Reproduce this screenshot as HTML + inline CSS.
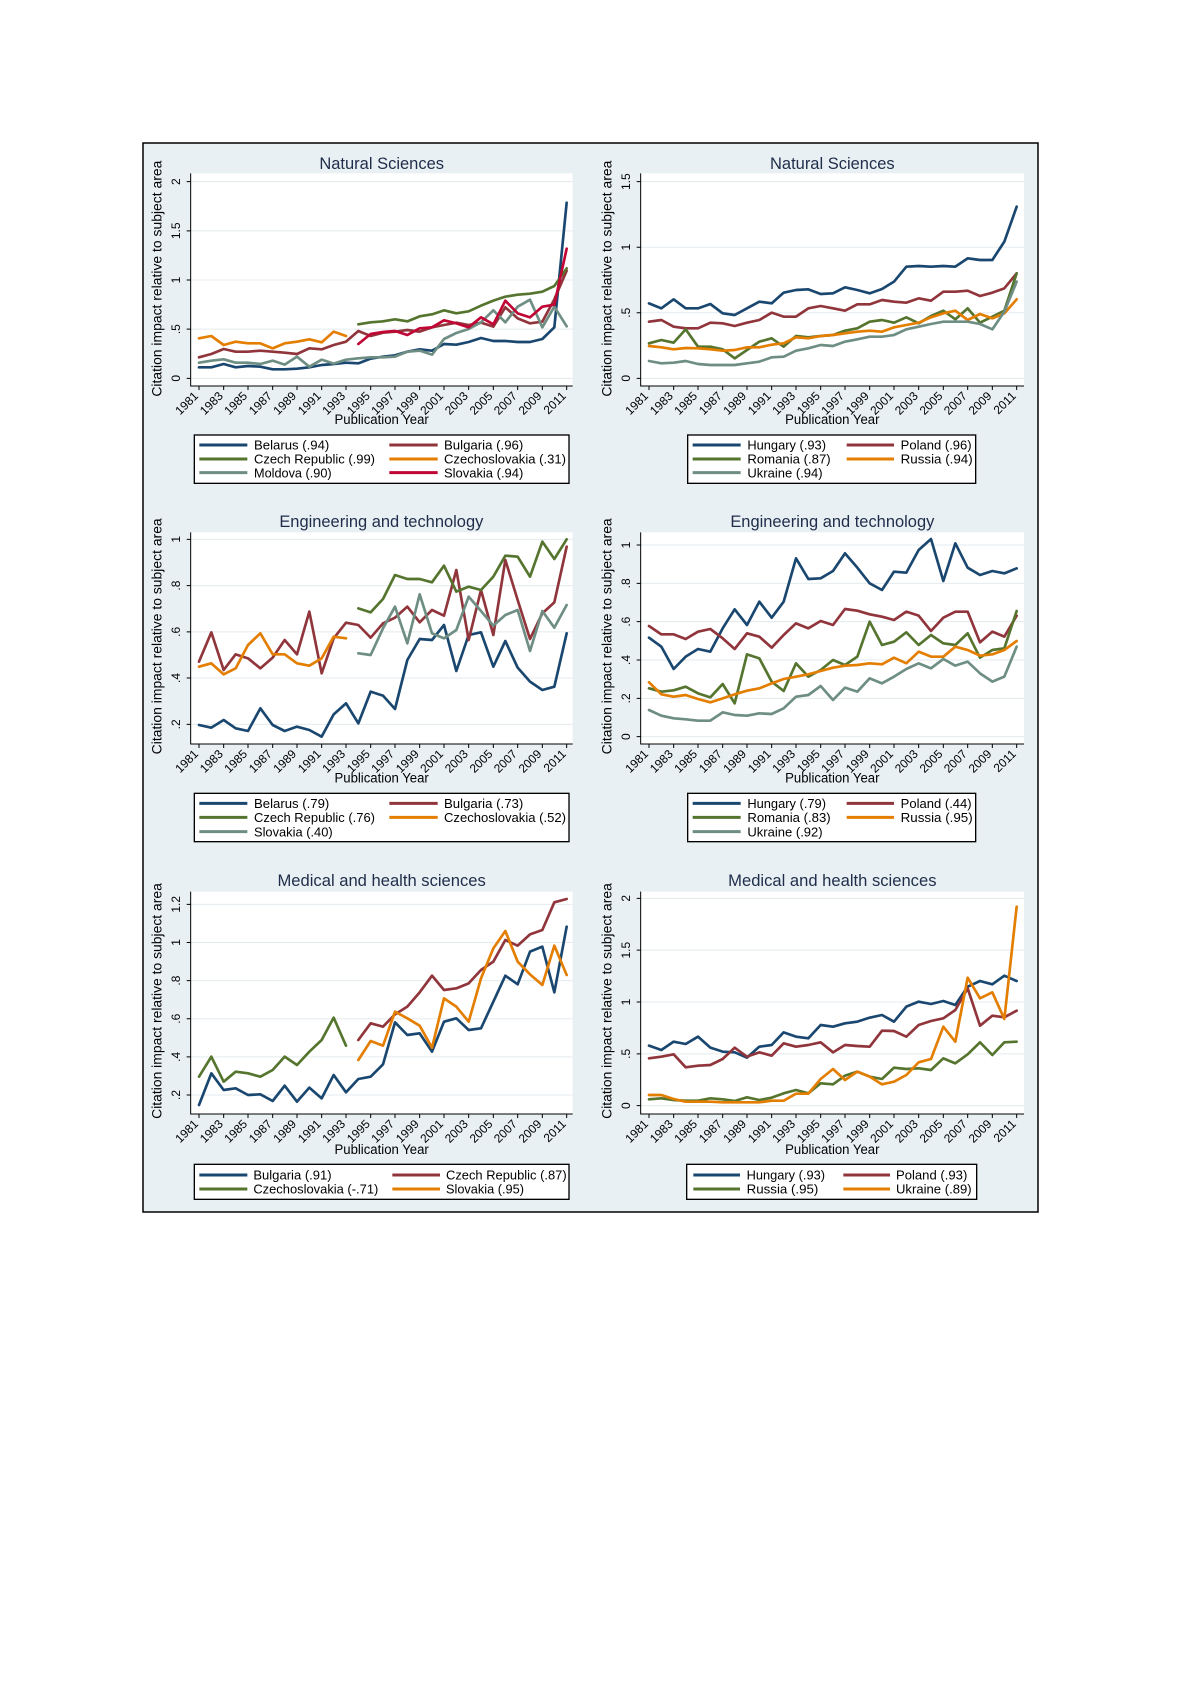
<!DOCTYPE html>
<html><head><meta charset="utf-8"><style>
html,body{margin:0;padding:0;background:#fff;}
svg{display:block;}
.t{font-family:"Liberation Sans",Arial,sans-serif;fill:#000;}
.tk{font-size:36px;}
.ti{font-size:49px;fill:#1f2d4a;}
.ax{font-size:41px;}
.lg{font-size:39px;}
.ln{fill:none;stroke-width:8;stroke-linejoin:round;stroke-linecap:round;}
.c1{stroke:#1a476f}.c2{stroke:#90353b}.c3{stroke:#55752f}.c4{stroke:#e37e00}.c5{stroke:#6e8e84}.c6{stroke:#c10534}
.gr{stroke:#e4ebef;stroke-width:3;fill:none}
.ak{stroke:#000;stroke-width:3;fill:none}
.lb{fill:#fff;stroke:#000;stroke-width:4}
.ls{stroke-width:9;fill:none}
</style></head><body>
<svg width="1191" height="1685" viewBox="0 0 1191 1685" xmlns="http://www.w3.org/2000/svg">
<rect x="0" y="0" width="1191" height="1685" fill="#fff"/>
<rect x="143" y="143" width="895" height="1069" fill="#e8f0f3" stroke="#000" stroke-width="1.5"/>

<!-- ============ PANEL 1 (top-left) ============ -->
<g transform="translate(140,140) scale(0.333333)">
<rect x="152" y="100" width="1146" height="638" fill="#fff"/>
<path class="gr" d="M152,715H1298M152,567.5H1298M152,420H1298M152,272.5H1298M152,125H1298"/>
<polyline class="ln c1" points="177,682 214,682 251,672 287,682 324,678 361,680 398,688 434,688 471,686 508,682 545,675 581,672 618,668 655,670 692,656 729,650 765,646 802,635 839,628 876,632 912,612 949,614 986,606 1023,594 1060,603 1096,603 1133,606 1170,606 1207,597 1243,562 1280,188"/>
<polyline class="ln c2" points="177,652 214,642 251,627 287,635 324,635 361,632 398,635 434,638 471,642 508,625 545,628 581,615 618,605 655,573 692,588 729,578 765,575 802,570 839,575 876,562 912,555 949,548 986,555 1023,548 1060,560 1096,502 1133,535 1170,550 1207,545 1243,478 1280,392"/>
<polyline class="ln c3" points="655,553 692,547 729,544 765,538 802,544 839,529 876,523 912,511 949,520 986,514 1023,497 1060,482 1096,470 1133,464 1170,461 1207,455 1243,438 1280,385"/>
<polyline class="ln c4" points="177,595 214,588 251,615 287,605 324,610 361,610 398,625 434,610 471,605 508,598 545,607 581,575 618,588"/>
<polyline class="ln c5" points="177,668 214,662 251,658 287,668 324,668 361,672 398,662 434,674 471,650 508,680 545,659 581,671 618,659 655,655 692,652 729,652 765,650 802,635 839,632 876,644 912,597 949,579 986,567 1023,547 1060,511 1096,547 1133,500 1170,479 1207,562 1243,500 1280,559"/>
<polyline class="ln c6" points="655,612 692,582 729,576 765,573 802,585 839,565 876,562 912,541 949,550 986,562 1023,532 1060,553 1096,482 1133,520 1170,532 1207,500 1243,494 1280,326"/>
<path class="ak" d="M152,100V738H1298"/>
<path class="ak" d="M140,715H152M140,567.5H152M140,420H152M140,272.5H152M140,125H152"/>
<path class="ak" d="M177,738v12M251,738v12M324,738v12M398,738v12M471,738v12M545,738v12M618,738v12M692,738v12M765,738v12M839,738v12M912,738v12M986,738v12M1060,738v12M1133,738v12M1207,738v12M1280,738v12"/>
<g class="t tk" text-anchor="middle">
<text transform="translate(120,715) rotate(-90)">0</text>
<text transform="translate(120,567.5) rotate(-90)">.5</text>
<text transform="translate(120,420) rotate(-90)">1</text>
<text transform="translate(120,272.5) rotate(-90)">1.5</text>
<text transform="translate(120,125) rotate(-90)">2</text>
</g>
<g class="t tk" text-anchor="end" transform="translate(0,770)">
<text transform="translate(177,0) rotate(-45)">1981</text><text transform="translate(251,0) rotate(-45)">1983</text><text transform="translate(324,0) rotate(-45)">1985</text><text transform="translate(398,0) rotate(-45)">1987</text><text transform="translate(471,0) rotate(-45)">1989</text><text transform="translate(545,0) rotate(-45)">1991</text><text transform="translate(618,0) rotate(-45)">1993</text><text transform="translate(692,0) rotate(-45)">1995</text><text transform="translate(765,0) rotate(-45)">1997</text><text transform="translate(839,0) rotate(-45)">1999</text><text transform="translate(912,0) rotate(-45)">2001</text><text transform="translate(986,0) rotate(-45)">2003</text><text transform="translate(1060,0) rotate(-45)">2005</text><text transform="translate(1133,0) rotate(-45)">2007</text><text transform="translate(1207,0) rotate(-45)">2009</text><text transform="translate(1280,0) rotate(-45)">2011</text>
</g>
<text class="t ti" x="725" y="87" text-anchor="middle" textLength="374" lengthAdjust="spacingAndGlyphs">Natural Sciences</text>
<text class="t ax" x="725" y="852" text-anchor="middle" textLength="283" lengthAdjust="spacingAndGlyphs">Publication Year</text>
<text class="t ax" transform="translate(65,416) rotate(-90)" text-anchor="middle" textLength="708" lengthAdjust="spacingAndGlyphs">Citation impact relative to subject area</text>
<rect class="lb" x="163" y="885" width="1124" height="145"/>
<path class="ls c1" d="M178,915H322"/><path class="ls c2" d="M748,915H893"/>
<path class="ls c3" d="M178,957H322"/><path class="ls c4" d="M748,957H893"/>
<path class="ls c5" d="M178,998H322"/><path class="ls c6" d="M748,998H893"/>
<g class="t lg">
<text x="342" y="929" textLength="226" lengthAdjust="spacingAndGlyphs">Belarus (.94)</text>
<text x="912" y="929" textLength="238" lengthAdjust="spacingAndGlyphs">Bulgaria (.96)</text>
<text x="342" y="971" textLength="363" lengthAdjust="spacingAndGlyphs">Czech Republic (.99)</text>
<text x="912" y="971" textLength="366" lengthAdjust="spacingAndGlyphs">Czechoslovakia (.31)</text>
<text x="342" y="1012" textLength="233" lengthAdjust="spacingAndGlyphs">Moldova (.90)</text>
<text x="912" y="1012" textLength="238" lengthAdjust="spacingAndGlyphs">Slovakia (.94)</text>
</g>
</g>

<!-- ============ PANEL 2 (top-right) ============ -->
<g transform="translate(590,140) scale(0.333333)">
<rect x="152" y="100" width="1150" height="638" fill="#fff"/>
<path class="gr" d="M152,715H1302M152,518.3H1302M152,321.7H1302M152,125H1302"/>
<polyline class="ln c1" points="177,490 214,505 251,478 287,505 324,505 361,492 398,520 434,525 471,505 508,485 545,490 581,458 618,450 655,448 692,462 729,460 765,442 802,450 839,460 876,447 912,425 949,380 986,378 1023,380 1060,378 1096,380 1133,355 1170,360 1207,360 1243,305 1280,200"/>
<polyline class="ln c2" points="177,545 214,540 251,560 287,565 324,565 361,548 398,550 434,558 471,548 508,540 545,518 581,530 618,530 655,505 692,498 729,505 765,512 802,493 839,493 876,480 912,485 949,488 986,475 1023,482 1060,455 1096,455 1133,452 1170,468 1207,458 1243,445 1280,400"/>
<polyline class="ln c3" points="177,610 214,600 251,608 287,568 324,620 361,620 398,628 434,655 471,630 508,605 545,595 581,620 618,588 655,592 692,588 729,585 765,572 802,565 839,545 876,540 912,548 949,532 986,550 1023,528 1060,512 1096,538 1133,505 1170,548 1207,530 1243,512 1280,400"/>
<polyline class="ln c4" points="177,618 214,622 251,628 287,624 324,625 361,628 398,632 434,630 471,622 508,622 545,614 581,610 618,592 655,595 692,588 729,585 765,580 802,575 839,572 876,575 912,562 949,555 986,548 1023,532 1060,520 1096,512 1133,540 1170,522 1207,535 1243,520 1280,478"/>
<polyline class="ln c5" points="177,663 214,670 251,668 287,663 324,672 361,675 398,675 434,675 471,670 508,665 545,652 581,650 618,632 655,625 692,615 729,618 765,605 802,598 839,590 876,590 912,585 949,568 986,560 1023,552 1060,545 1096,545 1133,545 1170,552 1207,568 1243,515 1280,425"/>
<path class="ak" d="M152,100V738H1302"/>
<path class="ak" d="M140,715H152M140,518.3H152M140,321.7H152M140,125H152"/>
<path class="ak" d="M177,738v12M251,738v12M324,738v12M398,738v12M471,738v12M545,738v12M618,738v12M692,738v12M765,738v12M839,738v12M912,738v12M986,738v12M1060,738v12M1133,738v12M1207,738v12M1280,738v12"/>
<g class="t tk" text-anchor="middle">
<text transform="translate(120,715) rotate(-90)">0</text>
<text transform="translate(120,518.3) rotate(-90)">.5</text>
<text transform="translate(120,321.7) rotate(-90)">1</text>
<text transform="translate(120,125) rotate(-90)">1.5</text>
</g>
<g class="t tk" text-anchor="end" transform="translate(0,770)">
<text transform="translate(177,0) rotate(-45)">1981</text><text transform="translate(251,0) rotate(-45)">1983</text><text transform="translate(324,0) rotate(-45)">1985</text><text transform="translate(398,0) rotate(-45)">1987</text><text transform="translate(471,0) rotate(-45)">1989</text><text transform="translate(545,0) rotate(-45)">1991</text><text transform="translate(618,0) rotate(-45)">1993</text><text transform="translate(692,0) rotate(-45)">1995</text><text transform="translate(765,0) rotate(-45)">1997</text><text transform="translate(839,0) rotate(-45)">1999</text><text transform="translate(912,0) rotate(-45)">2001</text><text transform="translate(986,0) rotate(-45)">2003</text><text transform="translate(1060,0) rotate(-45)">2005</text><text transform="translate(1133,0) rotate(-45)">2007</text><text transform="translate(1207,0) rotate(-45)">2009</text><text transform="translate(1280,0) rotate(-45)">2011</text>
</g>
<text class="t ti" x="727" y="87" text-anchor="middle" textLength="374" lengthAdjust="spacingAndGlyphs">Natural Sciences</text>
<text class="t ax" x="727" y="852" text-anchor="middle" textLength="283" lengthAdjust="spacingAndGlyphs">Publication Year</text>
<text class="t ax" transform="translate(65,416) rotate(-90)" text-anchor="middle" textLength="708" lengthAdjust="spacingAndGlyphs">Citation impact relative to subject area</text>
<rect class="lb" x="293" y="885" width="864" height="145"/>
<path class="ls c1" d="M308,915H452"/><path class="ls c2" d="M770,915H912"/>
<path class="ls c3" d="M308,957H452"/><path class="ls c4" d="M770,957H912"/>
<path class="ls c5" d="M308,998H452"/>
<g class="t lg">
<text x="472" y="929" textLength="236" lengthAdjust="spacingAndGlyphs">Hungary (.93)</text>
<text x="932" y="929" textLength="213" lengthAdjust="spacingAndGlyphs">Poland (.96)</text>
<text x="472" y="971" textLength="250" lengthAdjust="spacingAndGlyphs">Romania (.87)</text>
<text x="932" y="971" textLength="216" lengthAdjust="spacingAndGlyphs">Russia (.94)</text>
<text x="472" y="1012" textLength="226" lengthAdjust="spacingAndGlyphs">Ukraine (.94)</text>
</g>
</g>

<!-- ============ PANEL 3 (middle-left) ============ -->
<g transform="translate(140,495) scale(0.333333)">
<rect x="152" y="112" width="1146" height="635" fill="#fff"/>
<path class="gr" d="M152,688H1298M152,549H1298M152,410.5H1298M152,271.75H1298M152,133H1298"/>
<polyline class="ln c1" points="177,690 214,698 251,675 287,700 324,708 361,640 398,690 434,708 471,695 508,705 545,725 581,658 618,625 655,685 692,590 729,602 765,642 802,495 839,432 876,435 912,390 949,528 986,420 1023,412 1060,515 1096,438 1133,518 1170,560 1207,585 1243,575 1280,415"/>
<polyline class="ln c2" points="177,500 214,412 251,525 287,478 324,490 361,520 398,488 434,435 471,478 508,350 545,535 581,430 618,383 655,390 692,428 729,385 765,368 802,335 839,382 876,345 912,362 949,225 986,435 1023,285 1060,420 1096,195 1133,315 1170,432 1207,355 1243,322 1280,155"/>
<polyline class="ln c3" points="655,340 692,352 729,312 765,240 802,252 839,252 876,262 912,212 949,290 986,275 1023,285 1060,245 1096,182 1133,185 1170,245 1207,140 1243,192 1280,133"/>
<polyline class="ln c4" points="177,515 214,505 251,538 287,520 324,450 361,415 398,478 434,478 471,505 508,512 545,490 581,425 618,430"/>
<polyline class="ln c5" points="655,475 692,480 729,400 765,335 802,445 839,298 876,415 912,430 949,405 986,305 1023,348 1060,392 1096,360 1133,345 1170,468 1207,348 1243,398 1280,330"/>
<path class="ak" d="M152,112V747H1298"/>
<path class="ak" d="M140,688H152M140,549H152M140,410.5H152M140,271.75H152M140,133H152"/>
<path class="ak" d="M177,747v12M251,747v12M324,747v12M398,747v12M471,747v12M545,747v12M618,747v12M692,747v12M765,747v12M839,747v12M912,747v12M986,747v12M1060,747v12M1133,747v12M1207,747v12M1280,747v12"/>
<g class="t tk" text-anchor="middle">
<text transform="translate(120,688) rotate(-90)">.2</text>
<text transform="translate(120,549) rotate(-90)">.4</text>
<text transform="translate(120,410.5) rotate(-90)">.6</text>
<text transform="translate(120,271.75) rotate(-90)">.8</text>
<text transform="translate(120,133) rotate(-90)">1</text>
</g>
<g class="t tk" text-anchor="end" transform="translate(0,779)">
<text transform="translate(177,0) rotate(-45)">1981</text><text transform="translate(251,0) rotate(-45)">1983</text><text transform="translate(324,0) rotate(-45)">1985</text><text transform="translate(398,0) rotate(-45)">1987</text><text transform="translate(471,0) rotate(-45)">1989</text><text transform="translate(545,0) rotate(-45)">1991</text><text transform="translate(618,0) rotate(-45)">1993</text><text transform="translate(692,0) rotate(-45)">1995</text><text transform="translate(765,0) rotate(-45)">1997</text><text transform="translate(839,0) rotate(-45)">1999</text><text transform="translate(912,0) rotate(-45)">2001</text><text transform="translate(986,0) rotate(-45)">2003</text><text transform="translate(1060,0) rotate(-45)">2005</text><text transform="translate(1133,0) rotate(-45)">2007</text><text transform="translate(1207,0) rotate(-45)">2009</text><text transform="translate(1280,0) rotate(-45)">2011</text>
</g>
<text class="t ti" x="724" y="96" text-anchor="middle" textLength="612" lengthAdjust="spacingAndGlyphs">Engineering and technology</text>
<text class="t ax" x="725" y="862" text-anchor="middle" textLength="283" lengthAdjust="spacingAndGlyphs">Publication Year</text>
<text class="t ax" transform="translate(65,424) rotate(-90)" text-anchor="middle" textLength="708" lengthAdjust="spacingAndGlyphs">Citation impact relative to subject area</text>
<rect class="lb" x="163" y="895" width="1124" height="145"/>
<path class="ls c1" d="M178,925H322"/><path class="ls c2" d="M748,925H893"/>
<path class="ls c3" d="M178,967H322"/><path class="ls c4" d="M748,967H893"/>
<path class="ls c5" d="M178,1010H322"/>
<g class="t lg">
<text x="342" y="939" textLength="226" lengthAdjust="spacingAndGlyphs">Belarus (.79)</text>
<text x="912" y="939" textLength="238" lengthAdjust="spacingAndGlyphs">Bulgaria (.73)</text>
<text x="342" y="981" textLength="363" lengthAdjust="spacingAndGlyphs">Czech Republic (.76)</text>
<text x="912" y="981" textLength="366" lengthAdjust="spacingAndGlyphs">Czechoslovakia (.52)</text>
<text x="342" y="1024" textLength="236" lengthAdjust="spacingAndGlyphs">Slovakia (.40)</text>
</g>
</g>

<!-- ============ PANEL 4 (middle-right) ============ -->
<g transform="translate(590,495) scale(0.333333)">
<rect x="152" y="112" width="1150" height="635" fill="#fff"/>
<path class="gr" d="M152,725H1302M152,610H1302M152,495H1302M152,380H1302M152,265H1302M152,150H1302"/>
<polyline class="ln c1" points="177,428 214,455 251,522 287,485 324,462 361,470 398,400 434,343 471,390 508,320 545,368 581,320 618,190 655,252 692,250 729,228 765,175 802,218 839,265 876,285 912,230 949,233 986,165 1023,132 1060,258 1096,145 1133,218 1170,240 1207,228 1243,235 1280,220"/>
<polyline class="ln c2" points="177,393 214,418 251,418 287,432 324,410 361,402 398,430 434,462 471,415 508,425 545,458 581,420 618,385 655,400 692,378 729,390 765,342 802,347 839,358 876,365 912,375 949,350 986,362 1023,408 1060,368 1096,350 1133,350 1170,442 1207,410 1243,425 1280,362"/>
<polyline class="ln c3" points="177,580 214,590 251,586 287,575 324,595 361,607 398,567 434,625 471,478 508,490 545,560 581,588 618,505 655,545 692,525 729,495 765,510 802,485 839,380 876,450 912,440 949,412 986,450 1023,420 1060,445 1096,450 1133,415 1170,488 1207,465 1243,460 1280,348"/>
<polyline class="ln c4" points="177,562 214,598 251,605 287,600 324,612 361,622 398,610 434,598 471,587 508,580 545,565 581,552 618,545 655,538 692,528 729,518 765,512 802,510 839,505 876,508 912,488 949,505 986,470 1023,485 1060,485 1096,455 1133,465 1170,482 1207,478 1243,465 1280,438"/>
<polyline class="ln c5" points="177,645 214,662 251,670 287,673 324,677 361,677 398,652 434,660 471,662 508,655 545,657 581,640 618,605 655,600 692,573 729,615 765,578 802,590 839,550 876,565 912,545 949,522 986,505 1023,520 1060,492 1096,512 1133,500 1170,535 1207,560 1243,545 1280,455"/>
<path class="ak" d="M152,112V747H1302"/>
<path class="ak" d="M140,725H152M140,610H152M140,495H152M140,380H152M140,265H152M140,150H152"/>
<path class="ak" d="M177,747v12M251,747v12M324,747v12M398,747v12M471,747v12M545,747v12M618,747v12M692,747v12M765,747v12M839,747v12M912,747v12M986,747v12M1060,747v12M1133,747v12M1207,747v12M1280,747v12"/>
<g class="t tk" text-anchor="middle">
<text transform="translate(120,725) rotate(-90)">0</text>
<text transform="translate(120,610) rotate(-90)">.2</text>
<text transform="translate(120,495) rotate(-90)">.4</text>
<text transform="translate(120,380) rotate(-90)">.6</text>
<text transform="translate(120,265) rotate(-90)">.8</text>
<text transform="translate(120,150) rotate(-90)">1</text>
</g>
<g class="t tk" text-anchor="end" transform="translate(0,779)">
<text transform="translate(177,0) rotate(-45)">1981</text><text transform="translate(251,0) rotate(-45)">1983</text><text transform="translate(324,0) rotate(-45)">1985</text><text transform="translate(398,0) rotate(-45)">1987</text><text transform="translate(471,0) rotate(-45)">1989</text><text transform="translate(545,0) rotate(-45)">1991</text><text transform="translate(618,0) rotate(-45)">1993</text><text transform="translate(692,0) rotate(-45)">1995</text><text transform="translate(765,0) rotate(-45)">1997</text><text transform="translate(839,0) rotate(-45)">1999</text><text transform="translate(912,0) rotate(-45)">2001</text><text transform="translate(986,0) rotate(-45)">2003</text><text transform="translate(1060,0) rotate(-45)">2005</text><text transform="translate(1133,0) rotate(-45)">2007</text><text transform="translate(1207,0) rotate(-45)">2009</text><text transform="translate(1280,0) rotate(-45)">2011</text>
</g>
<text class="t ti" x="727" y="96" text-anchor="middle" textLength="612" lengthAdjust="spacingAndGlyphs">Engineering and technology</text>
<text class="t ax" x="727" y="862" text-anchor="middle" textLength="283" lengthAdjust="spacingAndGlyphs">Publication Year</text>
<text class="t ax" transform="translate(65,424) rotate(-90)" text-anchor="middle" textLength="708" lengthAdjust="spacingAndGlyphs">Citation impact relative to subject area</text>
<rect class="lb" x="293" y="895" width="864" height="145"/>
<path class="ls c1" d="M308,925H452"/><path class="ls c2" d="M770,925H912"/>
<path class="ls c3" d="M308,967H452"/><path class="ls c4" d="M770,967H912"/>
<path class="ls c5" d="M308,1010H452"/>
<g class="t lg">
<text x="472" y="939" textLength="236" lengthAdjust="spacingAndGlyphs">Hungary (.79)</text>
<text x="932" y="939" textLength="213" lengthAdjust="spacingAndGlyphs">Poland (.44)</text>
<text x="472" y="981" textLength="250" lengthAdjust="spacingAndGlyphs">Romania (.83)</text>
<text x="932" y="981" textLength="216" lengthAdjust="spacingAndGlyphs">Russia (.95)</text>
<text x="472" y="1024" textLength="226" lengthAdjust="spacingAndGlyphs">Ukraine (.92)</text>
</g>
</g>

<!-- ============ PANEL 5 (bottom-left) ============ -->
<g transform="translate(140,855) scale(0.333333)">
<rect x="152" y="110" width="1146" height="667" fill="#fff"/>
<path class="gr" d="M152,720H1298M152,605.6H1298M152,491.2H1298M152,376.8H1298M152,262.4H1298M152,148H1298"/>
<polyline class="ln c1" points="177,750 214,655 251,705 287,700 324,720 361,718 398,738 434,692 471,740 508,698 545,730 581,660 618,712 655,672 692,665 729,628 765,502 802,540 839,535 876,590 912,500 949,490 986,525 1023,520 1060,440 1096,362 1133,388 1170,290 1207,275 1243,412 1280,215"/>
<polyline class="ln c2" points="655,555 692,505 729,515 765,478 802,455 839,412 876,362 912,405 949,400 986,385 1023,345 1060,320 1096,255 1133,272 1170,238 1207,225 1243,142 1280,132"/>
<polyline class="ln c3" points="177,665 214,605 251,680 287,650 324,655 361,665 398,645 434,605 471,630 508,590 545,555 581,488 618,572"/>
<polyline class="ln c4" points="655,615 692,558 729,572 765,470 802,490 839,512 876,578 912,430 949,455 986,500 1023,370 1060,280 1096,228 1133,320 1170,358 1207,390 1243,272 1280,360"/>
<path class="ak" d="M152,110V777H1298"/>
<path class="ak" d="M140,720H152M140,605.6H152M140,491.2H152M140,376.8H152M140,262.4H152M140,148H152"/>
<path class="ak" d="M177,777v12M251,777v12M324,777v12M398,777v12M471,777v12M545,777v12M618,777v12M692,777v12M765,777v12M839,777v12M912,777v12M986,777v12M1060,777v12M1133,777v12M1207,777v12M1280,777v12"/>
<g class="t tk" text-anchor="middle">
<text transform="translate(120,720) rotate(-90)">.2</text>
<text transform="translate(120,605.6) rotate(-90)">.4</text>
<text transform="translate(120,491.2) rotate(-90)">.6</text>
<text transform="translate(120,376.8) rotate(-90)">.8</text>
<text transform="translate(120,262.4) rotate(-90)">1</text>
<text transform="translate(120,148) rotate(-90)">1.2</text>
</g>
<g class="t tk" text-anchor="end" transform="translate(0,809)">
<text transform="translate(177,0) rotate(-45)">1981</text><text transform="translate(251,0) rotate(-45)">1983</text><text transform="translate(324,0) rotate(-45)">1985</text><text transform="translate(398,0) rotate(-45)">1987</text><text transform="translate(471,0) rotate(-45)">1989</text><text transform="translate(545,0) rotate(-45)">1991</text><text transform="translate(618,0) rotate(-45)">1993</text><text transform="translate(692,0) rotate(-45)">1995</text><text transform="translate(765,0) rotate(-45)">1997</text><text transform="translate(839,0) rotate(-45)">1999</text><text transform="translate(912,0) rotate(-45)">2001</text><text transform="translate(986,0) rotate(-45)">2003</text><text transform="translate(1060,0) rotate(-45)">2005</text><text transform="translate(1133,0) rotate(-45)">2007</text><text transform="translate(1207,0) rotate(-45)">2009</text><text transform="translate(1280,0) rotate(-45)">2011</text>
</g>
<text class="t ti" x="725" y="93" text-anchor="middle" textLength="625" lengthAdjust="spacingAndGlyphs">Medical and health sciences</text>
<text class="t ax" x="725" y="897" text-anchor="middle" textLength="283" lengthAdjust="spacingAndGlyphs">Publication Year</text>
<text class="t ax" transform="translate(65,438) rotate(-90)" text-anchor="middle" textLength="707" lengthAdjust="spacingAndGlyphs">Citation impact relative to subject area</text>
<rect class="lb" x="163" y="928" width="1124" height="105"/>
<path class="ls c1" d="M178,960H322"/><path class="ls c2" d="M757,960H900"/>
<path class="ls c3" d="M178,1002H322"/><path class="ls c4" d="M757,1002H900"/>
<g class="t lg">
<text x="340" y="974" textLength="235" lengthAdjust="spacingAndGlyphs">Bulgaria (.91)</text>
<text x="918" y="974" textLength="362" lengthAdjust="spacingAndGlyphs">Czech Republic (.87)</text>
<text x="340" y="1016" textLength="375" lengthAdjust="spacingAndGlyphs">Czechoslovakia (-.71)</text>
<text x="918" y="1016" textLength="234" lengthAdjust="spacingAndGlyphs">Slovakia (.95)</text>
</g>
</g>

<!-- ============ PANEL 6 (bottom-right) ============ -->
<g transform="translate(590,855) scale(0.333333)">
<rect x="152" y="110" width="1150" height="667" fill="#fff"/>
<path class="gr" d="M152,752H1302M152,596.5H1302M152,441H1302M152,285.5H1302M152,130H1302"/>
<polyline class="ln c1" points="177,572 214,585 251,560 287,567 324,545 361,578 398,590 434,592 471,608 508,575 545,570 581,532 618,545 655,550 692,510 729,515 765,505 802,500 839,488 876,480 912,500 949,455 986,440 1023,447 1060,438 1096,450 1133,395 1170,378 1207,388 1243,362 1280,378"/>
<polyline class="ln c2" points="177,610 214,605 251,598 287,637 324,632 361,630 398,612 434,578 471,605 508,592 545,602 581,565 618,575 655,570 692,562 729,592 765,570 802,573 839,575 876,527 912,528 949,545 986,510 1023,498 1060,490 1096,465 1133,400 1170,512 1207,482 1243,487 1280,467"/>
<polyline class="ln c3" points="177,733 214,730 251,735 287,737 324,737 361,730 398,733 434,738 471,727 508,735 545,728 581,715 618,705 655,715 692,685 729,688 765,662 802,650 839,665 876,672 912,638 949,642 986,640 1023,645 1060,610 1096,625 1133,598 1170,562 1207,600 1243,562 1280,560"/>
<polyline class="ln c4" points="177,720 214,720 251,732 287,740 324,740 361,740 398,742 434,742 471,742 508,742 545,737 581,737 618,716 655,716 692,672 729,642 765,675 802,650 839,665 876,688 912,680 949,660 986,622 1023,612 1060,515 1096,560 1133,368 1170,430 1207,412 1243,492 1280,155"/>
<path class="ak" d="M152,110V777H1302"/>
<path class="ak" d="M140,752H152M140,596.5H152M140,441H152M140,285.5H152M140,130H152"/>
<path class="ak" d="M177,777v12M251,777v12M324,777v12M398,777v12M471,777v12M545,777v12M618,777v12M692,777v12M765,777v12M839,777v12M912,777v12M986,777v12M1060,777v12M1133,777v12M1207,777v12M1280,777v12"/>
<g class="t tk" text-anchor="middle">
<text transform="translate(120,752) rotate(-90)">0</text>
<text transform="translate(120,596.5) rotate(-90)">.5</text>
<text transform="translate(120,441) rotate(-90)">1</text>
<text transform="translate(120,285.5) rotate(-90)">1.5</text>
<text transform="translate(120,130) rotate(-90)">2</text>
</g>
<g class="t tk" text-anchor="end" transform="translate(0,809)">
<text transform="translate(177,0) rotate(-45)">1981</text><text transform="translate(251,0) rotate(-45)">1983</text><text transform="translate(324,0) rotate(-45)">1985</text><text transform="translate(398,0) rotate(-45)">1987</text><text transform="translate(471,0) rotate(-45)">1989</text><text transform="translate(545,0) rotate(-45)">1991</text><text transform="translate(618,0) rotate(-45)">1993</text><text transform="translate(692,0) rotate(-45)">1995</text><text transform="translate(765,0) rotate(-45)">1997</text><text transform="translate(839,0) rotate(-45)">1999</text><text transform="translate(912,0) rotate(-45)">2001</text><text transform="translate(986,0) rotate(-45)">2003</text><text transform="translate(1060,0) rotate(-45)">2005</text><text transform="translate(1133,0) rotate(-45)">2007</text><text transform="translate(1207,0) rotate(-45)">2009</text><text transform="translate(1280,0) rotate(-45)">2011</text>
</g>
<text class="t ti" x="727" y="93" text-anchor="middle" textLength="625" lengthAdjust="spacingAndGlyphs">Medical and health sciences</text>
<text class="t ax" x="727" y="897" text-anchor="middle" textLength="283" lengthAdjust="spacingAndGlyphs">Publication Year</text>
<text class="t ax" transform="translate(65,438) rotate(-90)" text-anchor="middle" textLength="707" lengthAdjust="spacingAndGlyphs">Citation impact relative to subject area</text>
<rect class="lb" x="290" y="928" width="870" height="105"/>
<path class="ls c1" d="M310,960H450"/><path class="ls c2" d="M760,960H900"/>
<path class="ls c3" d="M310,1002H450"/><path class="ls c4" d="M760,1002H900"/>
<g class="t lg">
<text x="470" y="974" textLength="235" lengthAdjust="spacingAndGlyphs">Hungary (.93)</text>
<text x="918" y="974" textLength="214" lengthAdjust="spacingAndGlyphs">Poland (.93)</text>
<text x="470" y="1016" textLength="215" lengthAdjust="spacingAndGlyphs">Russia (.95)</text>
<text x="918" y="1016" textLength="227" lengthAdjust="spacingAndGlyphs">Ukraine (.89)</text>
</g>
</g>
</svg>
</body></html>
